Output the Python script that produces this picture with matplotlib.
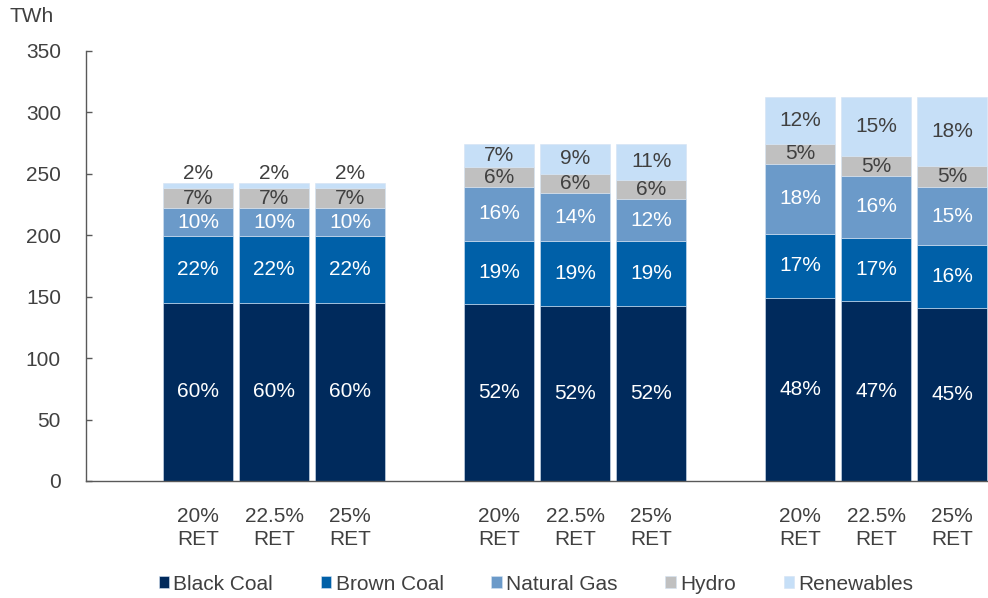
import numpy as np
import matplotlib
matplotlib.use("Agg")
import matplotlib.pyplot as plt

plt.rcParams['font.family'] = ['Liberation Sans', 'DejaVu Sans']

# generation mix by scenario (TWh)
scenarios = ['20%\nRET', '22.5%\nRET', '25%\nRET'] * 3
fuels = ['Black Coal', 'Brown Coal', 'Natural Gas', 'Hydro', 'Renewables']
black_coal = [145, 145, 145, 144, 142, 142, 149, 146, 141]
brown_coal = [54, 54, 54, 51.5, 53, 53, 52, 52, 51]
natural_gas = [23, 23, 23, 43.5, 39, 34, 57, 50, 47]
hydro = [16, 16, 16, 16, 16, 16, 16, 16, 17]
renewables = [4, 4, 4, 19.5, 24.5, 29.5, 38, 48, 56]

colors = ['#002a5c', '#0060a8', '#6b9ac9', '#c0c0c0', '#c6dff7']
label_colors = ['white', 'white', 'white', '#404040', '#404040']
text_col = '#404040'
fs = 15

series = np.array([black_coal, brown_coal, natural_gas, hydro, renewables])
totals = series.sum(axis=0)

# three scenario groups, three bars each
x = np.array([g * 3.96 + i for g in range(3) for i in range(3)])

fig = plt.figure(figsize=(9.88, 5.98), dpi=100)
ax = fig.add_axes([0.087, 0.1957, 0.913, 0.7195])

bottom = np.zeros(len(x))
for vals, name, c, lc in zip(series, fuels, colors, label_colors):
    ax.bar(x, vals, width=0.92, bottom=bottom, color=c, label=name,
           edgecolor='#d4e3f3', linewidth=0.4)
    for xi, b, v, t in zip(x, bottom, vals, totals):
        pct = '{:.0f}%'.format(v / t * 100)
        if v < 8:
            ax.text(xi, b + v + 8, pct, ha='center', va='center',
                    color=text_col, fontsize=fs)
        else:
            ax.text(xi, b + v / 2, pct, ha='center', va='center',
                    color=lc, fontsize=fs)
    bottom += vals

ax.set_ylim(0, 350)
ax.set_xlim(-1.474, x[-1] + 0.47)
ax.set_yticks(range(0, 351, 50))
ax.set_xticks(x)
ax.set_xticklabels(scenarios, linespacing=1.25)

for s in ['top', 'right']:
    ax.spines[s].set_visible(False)
for s in ['left', 'bottom']:
    ax.spines[s].set_color('#595959')
    ax.spines[s].set_linewidth(1.0)

ax.tick_params(axis='y', direction='in', length=4.3, width=1.0,
               color='#595959', pad=18, labelsize=fs, labelcolor=text_col)
ax.tick_params(axis='x', length=0, pad=19, labelsize=fs,
               labelcolor=text_col)

fig.text(0.01, 0.988, 'TWh', ha='left', va='top', fontsize=fs,
         color=text_col)

fig.legend(loc='center', bbox_to_anchor=(0.5425, 0.0234), ncol=5,
           frameon=False, fontsize=fs, handlelength=0.5,
           handleheight=0.5, handletextpad=0.2, columnspacing=2.3,
           labelcolor=text_col)

fig.savefig('out.png', dpi=100)
